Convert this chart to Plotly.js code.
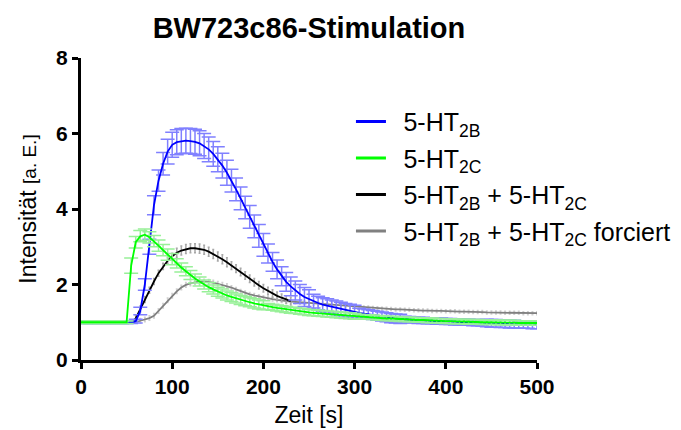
<!DOCTYPE html>
<html>
<head>
<meta charset="utf-8">
<script src="https://cdn.plot.ly/plotly-3.0.1.min.js"></script>
<style>html,body{margin:0;padding:0;background:#fff;}#chart{width:681px;height:430px;}</style>
</head>
<body>
<div id="chart"></div>
<script>
var time = [0,5,10,15,20,25,30,35,40,45,50,55,60,65,70,75,80,85,90,95,100,105,110,115,120,125,130,135,140,145,150,155,160,165,170,175,180,185,190,195,200,205,210,215,220,225,230,235,240,245,250,255,260,265,270,275,280,285,290,295,300,305,310,315,320,325,330,335,340,345,350,355,360,365,370,375,380,385,390,395,400,405,410,415,420,425,430,435,440,445,450,455,460,465,470,475,480,485,490,495,500];

var ht2b = [1.0,1.0,1.0,1.0,1.0,1.0,1.0,1.0,1.0,1.0,1.0,1.0,
  1.03,1.3,2.0,3.0,4.1,4.75,5.2,5.52,5.7,5.77,5.8,5.81,5.8,5.78,5.74,5.67,5.58,5.46,5.32,5.15,4.96,4.75,4.52,4.28,4.04,3.79,3.54,3.29,3.05,2.82,2.6,2.4,2.22,2.07,1.95,1.84,1.75,1.67,1.61,1.56,1.51,1.47,1.44,1.41,1.38,1.35,1.32,1.3,1.27,1.25,1.23,1.21,1.19,1.17,1.15,1.13,1.11,1.1,1.09,1.08,1.07,1.06,1.05,1.05,1.04,1.04,1.03,1.03,1.02,1.02,1.01,1.01,1.0,1.0,0.99,0.99,0.98,0.98,0.97,0.97,0.96,0.96,0.95,0.95,0.94,0.94,0.94,0.93,0.93];
var ht2bErr = [0.03,0.03,0.03,0.03,0.03,0.03,0.03,0.03,0.03,0.03,0.03,0.03,
  0.05,0.1,0.15,0.2,0.25,0.28,0.3,
  0.33,0.33,0.33,0.33,0.33,0.33,0.33,0.33,0.33,0.33,0.33,0.33,0.33,0.33,
  0.3,0.3,0.3,0.3,0.3,0.3,0.3,0.3,
  0.25,0.25,0.25,0.25,0.25,0.25,0.25,0.25,0.25,0.25,
  0.18,0.18,0.18,0.18,0.18,0.18,0.18,0.18,0.18,0.18,
  0.12,0.12,0.12,0.12,0.12,0.12,0.12,0.12,0.12,0.12,
  0.08,0.08,0.08,0.08,0.08,0.08,0.08,0.08,0.08,0.08,0.08,0.08,0.08,0.08,0.08,0.08,0.08,0.08,
  0.1,0.1,0.1,0.1,0.1,0.1,0.1,0.1,0.1,0.1,0.1,0.1];

var ht2c = [1.0,1.0,1.0,1.0,1.0,1.0,1.0,1.0,1.0,1.0,1.0,
  2.5,3.12,3.28,3.32,3.25,3.15,3.03,2.91,2.79,2.67,2.56,2.45,2.35,2.25,2.16,2.08,2.0,1.93,1.87,1.81,1.76,1.71,1.67,1.63,1.59,1.56,1.53,1.5,1.47,1.45,1.42,1.4,1.38,1.36,1.34,1.32,1.31,1.29,1.28,1.26,1.25,1.24,1.23,1.22,1.21,1.2,1.19,1.18,1.17,1.16,1.15,1.14,1.14,1.13,1.12,1.11,1.1,1.1,1.09,1.08,1.08,1.07,1.07,1.06,1.06,1.05,1.05,1.04,1.04,1.03,1.03,1.02,1.02,1.02,1.01,1.01,1.01,1.0,1.0,1.0,1.0,0.99,0.99,0.99,0.99,0.98,0.98,0.98,0.98,0.98];
var ht2cErr = [0.03,0.03,0.03,0.03,0.03,0.03,0.03,0.03,0.03,0.03,0.03,
  0.2,
  0.15,0.15,0.15,0.15,0.15,0.15,0.15,0.15,0.15,
  0.12,0.12,0.12,0.12,0.12,0.12,0.12,0.12,0.12,0.12,0.12,0.12,0.12,0.12,0.12,0.12,0.12,0.12,0.12,0.12,
  0.08,0.08,0.08,0.08,0.08,0.08,0.08,0.08,0.08,0.08,0.08,0.08,0.08,0.08,0.08,0.08,0.08,0.08,0.08,0.08,
  0.06,0.06,0.06,0.06,0.06,0.06,0.06,0.06,0.06,0.06,0.06,0.06,0.06,0.06,0.06,0.06,0.06,0.06,0.06,0.06,
  0.06,0.06,0.06,0.06,0.06,0.06,0.06,0.06,0.06,0.06,0.06,0.06,0.06,0.06,0.06,0.06,0.06,0.06,0.06,0.06];

var both = [1.0,1.0,1.0,1.0,1.0,1.0,1.0,1.0,1.0,1.0,1.0,1.0,
  1.1,1.35,1.6,1.85,2.08,2.3,2.48,2.63,2.75,2.84,2.9,2.94,2.96,2.96,2.95,2.92,2.87,2.81,2.74,2.67,2.59,2.5,2.42,2.33,2.24,2.15,2.06,1.98,1.9,1.83,1.76,1.7,1.65,1.6,1.56];
var bothErr = [0.02,0.02,0.02,0.02,0.02,0.02,0.02,0.02,0.02,0.02,0.02,0.02,
  0.08,0.08,0.08,0.08,0.08,0.08,0.08,0.08,0.08,
  0.12,0.12,0.12,0.12,0.12,0.12,0.12,0.12,0.12,0.12,0.12,0.12,
  0.1,0.1,0.1,0.1,0.1,0.1,0.1,0.1,0.1,0.1,0.1,0.1,0.1,0.1];

var forced = [1.0,1.0,1.0,1.0,1.0,1.0,1.0,1.0,1.0,1.0,1.0,1.0,1.0,
  1.04,1.07,1.11,1.17,1.3,1.44,1.58,1.7,1.82,1.92,1.99,2.03,2.06,2.08,2.08,2.07,2.05,2.02,1.99,1.96,1.92,1.87,1.82,1.78,1.74,1.71,1.68,1.65,1.63,1.61,1.59,1.57,1.56,1.55,1.54,1.53,1.52,1.51,1.5,1.49,1.48,1.47,1.46,1.45,1.44,1.43,1.42,1.41,1.4,1.39,1.39,1.38,1.37,1.36,1.36,1.35,1.34,1.34,1.33,1.33,1.32,1.32,1.31,1.31,1.3,1.3,1.3,1.29,1.29,1.29,1.28,1.28,1.28,1.27,1.27,1.27,1.26,1.26,1.26,1.26,1.25,1.25,1.25,1.25,1.24,1.24,1.24,1.24];
var forcedErr = [0.02,0.02,0.02,0.02,0.02,0.02,0.02,0.02,0.02,0.02,0.02,0.02,0.02,
  0.06,0.06,0.06,0.06,0.06,0.06,0.06,0.06,0.06,0.06,0.06,0.06,0.06,0.06,0.06,0.06,0.06,0.06,0.06,0.06,
  0.05,0.05,0.05,0.05,0.05,0.05,0.05,0.05,0.05,0.05,0.05,0.05,0.05,0.05,0.05,0.05,0.05,0.05,0.05,0.05,0.05,0.05,0.05,0.05,0.05,0.05,0.05,0.05,
  0.04,0.04,0.04,0.04,0.04,0.04,0.04,0.04,0.04,0.04,0.04,0.04,0.04,0.04,0.04,0.04,0.04,0.04,0.04,0.04,
  0.04,0.04,0.04,0.04,0.04,0.04,0.04,0.04,0.04,0.04,0.04,0.04,0.04,0.04,0.04,0.04,0.04,0.04,0.04,0.04];

var names = ['5-HT<sub>2B</sub>', '5-HT<sub>2C</sub>', '5-HT<sub>2B</sub> + 5-HT<sub>2C</sub>', '5-HT<sub>2B</sub> + 5-HT<sub>2C</sub> forciert'];
var xTicks = [0, 100, 200, 300, 400, 500];
var yTicks = [0, 2, 4, 6, 8];

var FONT = 'Liberation Sans, Arial, sans-serif';

function dataTrace(y, err, lineColor, errColor, capW, lw) {
  return {
    type: 'scatter', mode: 'lines',
    x: time.slice(0, y.length), y: y,
    line: {color: lineColor, width: lw},
    error_y: {type: 'data', array: err, visible: true, color: errColor, thickness: 1.5, width: capW},
    showlegend: false, hoverinfo: 'skip'
  };
}
function legendTrace(name, color, grp) {
  return {
    type: 'scatter', mode: 'lines', x: [null], y: [null], name: '\u2002' + name,
    legendgroup: grp,
    line: {color: color, width: 3}, showlegend: true
  };
}

var traces = [
  dataTrace(forced, forcedErr, '#808080', '#D0D0D0', 1, 1.8),
  dataTrace(both, bothErr, '#000000', '#A8A8A8', 1, 1.8),
  dataTrace(ht2b, ht2bErr, '#0000FF', '#8080FF', 7, 1.8),
  dataTrace(ht2c, ht2cErr, '#00FF00', '#98F098', 7, 1.8),
  legendTrace(names[0], '#0000FF', 'a'),
  legendTrace(names[1], '#00FF00', 'b'),
  legendTrace(names[2], '#000000', 'c'),
  legendTrace(names[3], '#808080', 'd')
];

var layout = {
  width: 681, height: 430,
  margin: {l: 81, r: 144, t: 58, b: 70, autoexpand: false},
  paper_bgcolor: '#fff', plot_bgcolor: '#fff',
  font: {family: FONT, color: '#000'},
  title: {text: 'BW723c86-Stimulation', font: {family: FONT, size: 29, weight: 700, color: '#000'}, x: 0.5, xref: 'paper', y: 0.935, yref: 'container', xanchor: 'center', yanchor: 'middle'},
  xaxis: {
    range: [0, 500], tickvals: xTicks, ticktext: xTicks.map(String),
    showline: true, linewidth: 3, linecolor: '#000', ticks: 'outside', ticklen: 6, tickwidth: 3, tickcolor: '#000',
    showgrid: false, zeroline: false, tickfont: {family: FONT, size: 21, weight: 700, color: '#000'},
    title: {text: 'Zeit [s]', font: {family: FONT, size: 23, color: '#000'}, standoff: 10}
  },
  yaxis: {
    range: [0, 8], tickvals: yTicks, ticktext: yTicks.map(String),
    showline: true, linewidth: 3, linecolor: '#000', ticks: 'outside', ticklen: 6, tickwidth: 3, tickcolor: '#000',
    showgrid: false, zeroline: false, tickfont: {family: FONT, size: 21, weight: 700, color: '#000'},
    title: {text: 'Intensität <span style="font-size:19px">[a. E.]</span>', font: {family: FONT, size: 23, color: '#000'}, standoff: 14}
  },
  legend: {x: 0.592, xanchor: 'left', y: 0.865, yanchor: 'top', bgcolor: 'rgba(0,0,0,0)', font: {family: FONT, size: 25, color: '#000'}, itemwidth: 30, traceorder: 'grouped', tracegroupgap: 1},
  showlegend: true
};

Plotly.newPlot('chart', traces, layout, {displayModeBar: false, staticPlot: true});
</script>
</body>
</html>
